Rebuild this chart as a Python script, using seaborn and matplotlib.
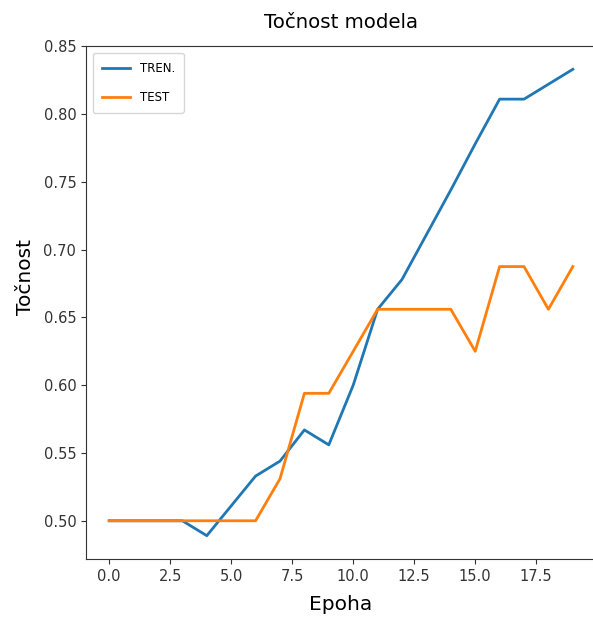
import matplotlib
matplotlib.use("Agg")
import matplotlib.pyplot as plt
import numpy as np
import pandas as pd
import seaborn as sns

epohe = list(range(20))
tren = [0.500, 0.500, 0.500, 0.500, 0.489, 0.511, 0.533, 0.544, 0.567, 0.556,
        0.600, 0.656, 0.678, 0.711, 0.744, 0.778, 0.811, 0.811, 0.822, 0.833]
test = [0.500, 0.500, 0.500, 0.500, 0.500, 0.500, 0.500, 0.531, 0.594, 0.594,
        0.625, 0.656, 0.656, 0.656, 0.656, 0.625, 0.6875, 0.6875, 0.656, 0.6875]

df = pd.DataFrame({"Epoha": epohe, "TREN.": tren, "TEST": test})

fig = plt.figure(figsize=(5.93, 6.2), dpi=100)
ax = fig.add_axes([86/593, 61/620, 510/593, 513/620])

sns.lineplot(data=df, x="Epoha", y="TREN.", color="#1f77b4", label="TREN.", ax=ax, linewidth=2)
sns.lineplot(data=df, x="Epoha", y="TEST", color="#ff7f0e", label="TEST", ax=ax, linewidth=2)

ax.set_title("Točnost modela", fontsize=14.2, pad=13)
ax.set_xlabel("Epoha", fontsize=14.5, labelpad=8)
ax.set_ylabel("Točnost", fontsize=14.5, labelpad=6, y=0.55)
ax.set_xticks([0, 2.5, 5, 7.5, 10, 12.5, 15, 17.5])
ax.tick_params(labelsize=10.5, colors="#333333")
for s in ax.spines.values():
    s.set_color("#333333")

ax.legend(loc="upper left", fontsize=8.5, handlelength=2.4, labelspacing=1.35,
          borderpad=0.75, handletextpad=0.8, borderaxespad=0.6)

fig.savefig("out.png", dpi=100)
